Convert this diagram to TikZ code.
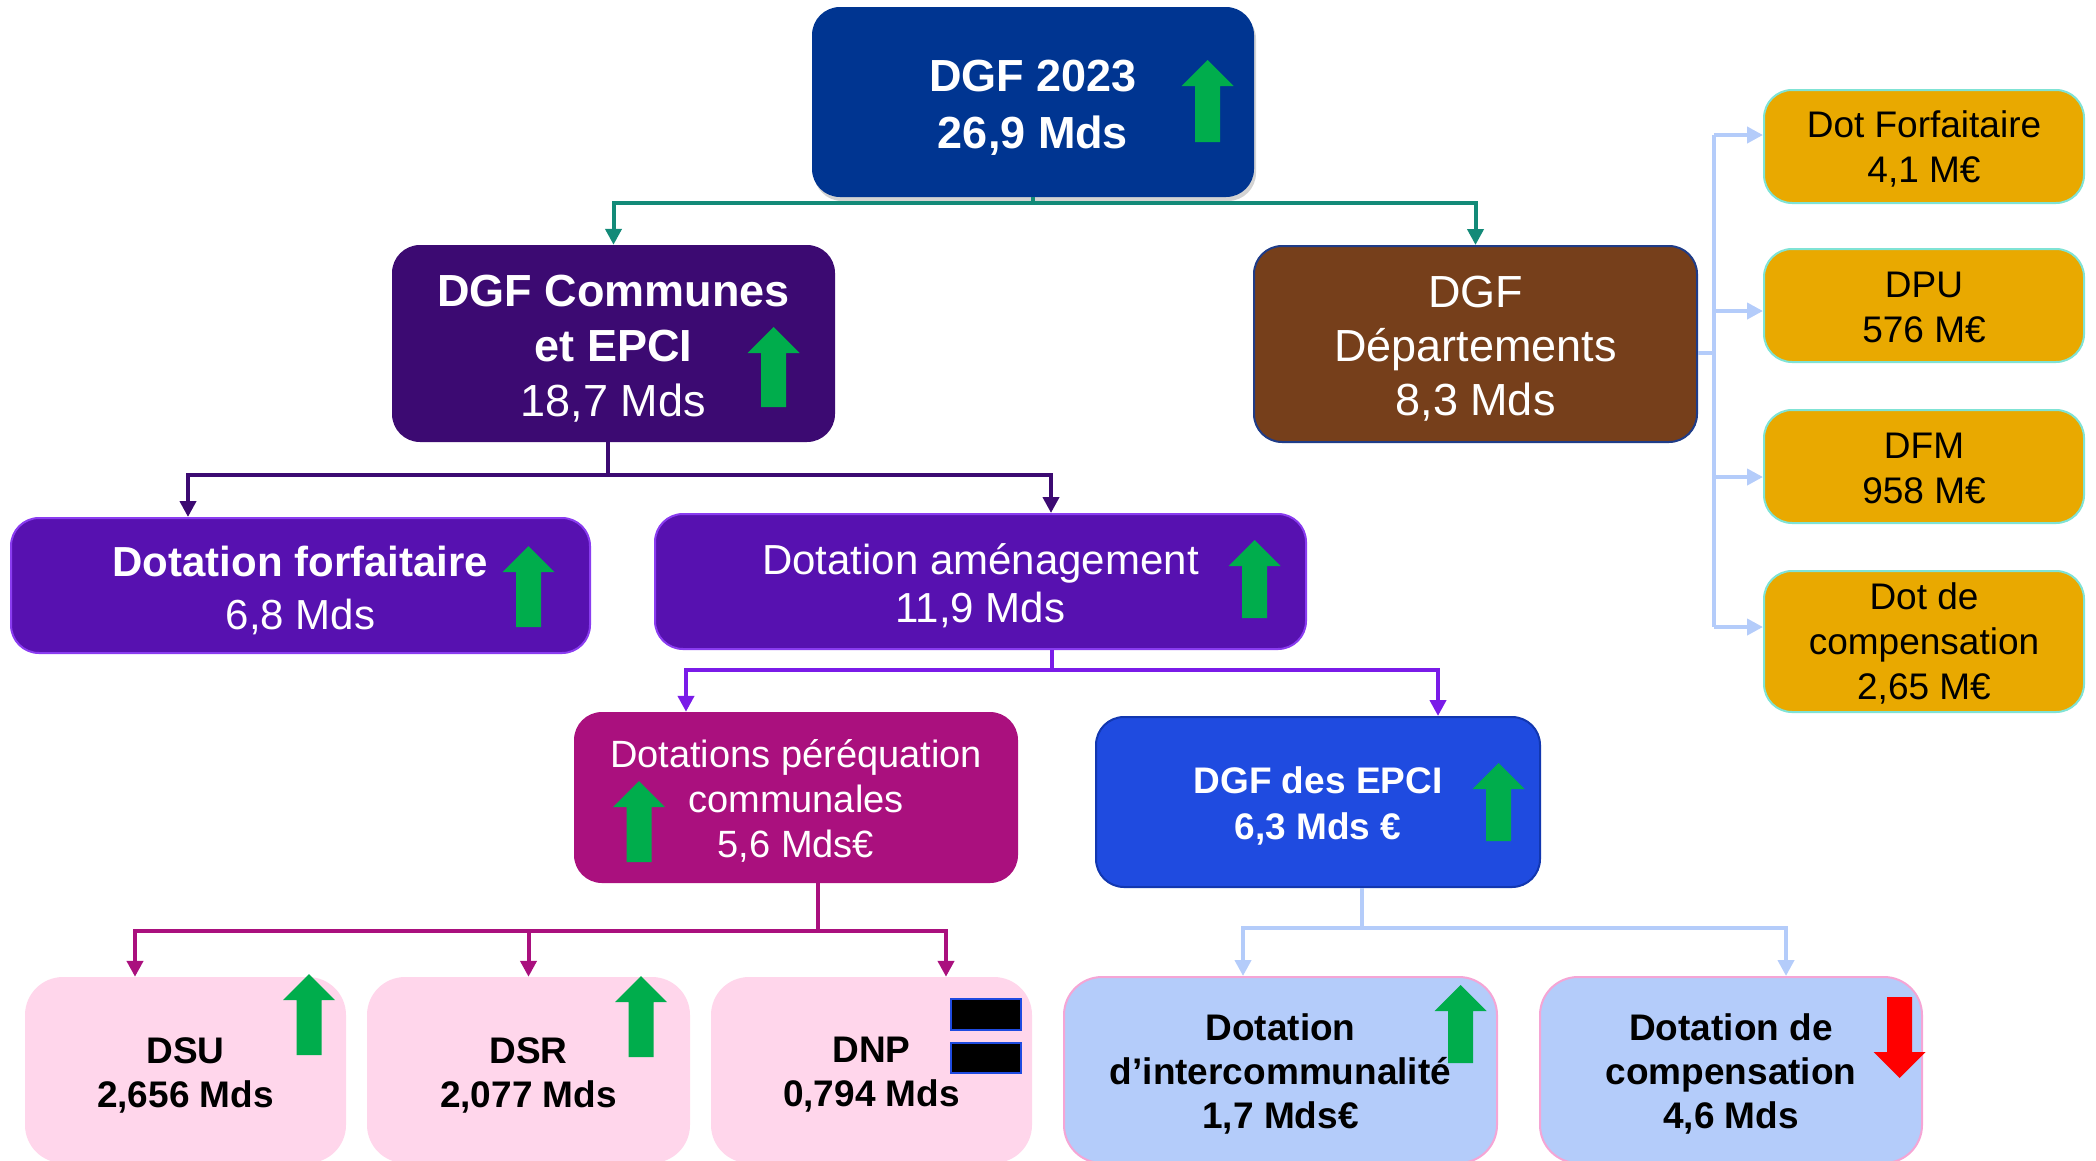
\documentclass[tikz,border=0pt]{standalone}
\usepackage{fontspec}
\setmainfont{Liberation Sans}
\usetikzlibrary{arrows.meta,shadows}
\definecolor{cnavy}{HTML}{003591}
\definecolor{ccomm}{HTML}{3C0A72}
\definecolor{cdep}{HTML}{763F1B}
\definecolor{cdepb}{HTML}{1F3C88}
\definecolor{corange}{HTML}{E9A900}
\definecolor{corangeb}{HTML}{7FE3D5}
\definecolor{cviolet}{HTML}{5711B0}
\definecolor{cvioletb}{HTML}{8A3CF0}
\definecolor{cmag}{HTML}{AA107E}
\definecolor{cepci}{HTML}{1F4BE0}
\definecolor{cepcib}{HTML}{1237B0}
\definecolor{cpink}{HTML}{FFD6EB}
\definecolor{clblue}{HTML}{B4CCFA}
\definecolor{clblueb}{HTML}{F5A5D5}
\definecolor{cteal}{HTML}{138A78}
\definecolor{cvline}{HTML}{7A1BE8}
\definecolor{cgreen}{HTML}{00AD4C}
\definecolor{cred}{HTML}{FF0000}
\newcommand{\fs}[2]{\fontsize{#1}{#2}\selectfont}
\newcommand{\garrow}[3]{\fill[cgreen] (#1-12.5,#3) -- (#1-12.5,#2+26) -- (#1-26,#2+26) -- (#1,#2) -- (#1+26,#2+26) -- (#1+12.5,#2+26) -- (#1+12.5,#3) -- cycle;}
\newcommand{\rarrow}[3]{\fill[cred] (#1-12.5,#2) -- (#1-12.5,#3-26) -- (#1-26,#3-26) -- (#1,#3) -- (#1+26,#3-26) -- (#1+12.5,#3-26) -- (#1+12.5,#2) -- cycle;}
% #1 box name, #2 text style, #3 downward shift (pt), #4 text
\newcommand{\boxtext}[4]{\node[txt,#2] (#1-t) at ([yshift=-#3pt]#1.center) {#4};}
\begin{document}
\begin{tikzpicture}[x=1pt,y=-1pt,
  box/.style={draw=none, rounded corners=28pt, inner sep=0pt},
  txt/.style={inner sep=0pt, align=center, text=white},
  orangebox/.style={box, fill=corange, draw=corangeb, line width=2pt, minimum width=320pt},
  otxt/.style={text=black, font=\fs{37}{45}},
  pinkbox/.style={box, fill=cpink, rounded corners=38pt, minimum width=321pt, minimum height=186pt},
  lbluebox/.style={box, fill=clblue, draw=clblueb, line width=2pt, rounded corners=38pt, minimum height=186pt},
  btxt/.style={text=black, font=\bfseries\fs{37}{44}},
  conn/.style={line width=4pt, -{Triangle[width=16pt,length=16pt]}},
  plain/.style={line width=4pt},
]
\useasboundingbox (0,0) rectangle (2096,1160);

% boxes
\node[box, fill=cnavy, minimum width=442pt, minimum height=190pt,
  drop shadow={shadow xshift=2pt, shadow yshift=-4pt, opacity=0.35}] (top) at (1033,102) {};
\boxtext{top}{font=\bfseries\fs{45}{57}}{6}{DGF 2023\\26,9 Mds}
\node[box, fill=ccomm, minimum width=443pt, minimum height=197pt] (comm) at (613.5,343.5) {};
\boxtext{comm}{font=\fs{45}{55}}{5}{\textbf{DGF Communes}\\\textbf{et EPCI}\\18,7 Mds}
\node[box, fill=cdep, draw=cdepb, line width=2pt, minimum width=443pt, minimum height=196pt] (dep) at (1475.5,344) {};
\boxtext{dep}{font=\fs{45}{54}}{5}{DGF\\Départements\\8,3 Mds}

\node[orangebox, minimum height=113pt] (o1) at (1924,146.5) {};
\boxtext{o1}{otxt}{2}{Dot Forfaitaire\\4,1 M€}
\node[orangebox, minimum height=113pt] (o2) at (1924,305.5) {};
\boxtext{o2}{otxt}{2}{DPU\\576 M€}
\node[orangebox, minimum height=113pt] (o3) at (1924,466.5) {};
\boxtext{o3}{otxt}{2}{DFM\\958 M€}
\node[orangebox, minimum height=141pt] (o4) at (1924,641.5) {};
\boxtext{o4}{otxt}{2}{Dot de\\compensation\\2,65 M€}

\node[box, fill=cviolet, draw=cvioletb, line width=2pt, minimum width=579pt, minimum height=135pt] (forf) at (300.5,585.5) {};
\boxtext{forf}{font=\fs{42}{53}}{5}{\textbf{Dotation forfaitaire}\\6,8 Mds}
\node[box, fill=cviolet, draw=cvioletb, line width=2pt, minimum width=651pt, minimum height=135pt] (amen) at (980.5,581.5) {};
\boxtext{amen}{font=\fs{42}{48}}{4}{Dotation aménagement\\11,9 Mds}

\node[box, fill=cmag, minimum width=444pt, minimum height=171pt] (pere) at (796,797.5) {};
\boxtext{pere}{font=\fs{38}{45}}{3}{Dotations péréquation\\communales\\5,6 Mds€}
\node[box, fill=cepci, draw=cepcib, line width=2pt, minimum width=444pt, minimum height=170pt] (epci) at (1318,802) {};
\boxtext{epci}{font=\bfseries\fs{37}{46}}{4}{DGF des EPCI\\6,3 Mds €}

\node[pinkbox] (dsu) at (185.5,1070) {};
\boxtext{dsu}{btxt}{5}{DSU\\2,656 Mds}
\node[pinkbox, minimum width=323pt] (dsr) at (528.5,1070) {};
\boxtext{dsr}{btxt}{5}{DSR\\2,077 Mds}
\node[pinkbox] (dnp) at (871.5,1070) {};
\boxtext{dnp}{btxt}{5}{DNP\\0,794 Mds}
\node[lbluebox, minimum width=433pt] (inter) at (1280.5,1070) {};
\boxtext{inter}{btxt}{4}{Dotation\\d’intercommunalité\\1,7 Mds€}
\node[lbluebox, minimum width=382pt] (comp) at (1731,1070) {};
\boxtext{comp}{btxt}{4}{Dotation de\\compensation\\4,6 Mds}

% green / red arrows
\garrow{1207.5}{60}{142}
\garrow{773.5}{327}{407}
\garrow{528.5}{546}{627}
\garrow{1254.5}{540}{618}
\garrow{639}{781}{862}
\garrow{1498.5}{763}{841}
\garrow{309}{974}{1055}
\garrow{641}{976}{1057}
\garrow{1460.5}{985}{1063}
\rarrow{1899.5}{997}{1078}
% DNP equal sign
\draw[fill=black, draw=cepci, line width=2.5pt] (951,999) rectangle (1021,1030);
\draw[fill=black, draw=cepci, line width=2.5pt] (951,1043) rectangle (1021,1073);

% connectors
\coordinate (j1) at (1033,203);
\draw[plain, cteal] (top.south) -- (j1);
\draw[conn, cteal] (j1) -| (comm.north);
\draw[conn, cteal] (j1) -| (dep.north);

\coordinate (j2) at (608,475);
\draw[plain, ccomm] (comm.south -| j2) -- (j2);
\draw[conn, ccomm] (j2) -| ([xshift=-112.5pt]forf.north);
\draw[conn, ccomm] (j2) -| ([xshift=70.5pt]amen.north);

\coordinate (j3) at (1052,670);
\draw[plain, cvline] (amen.south -| j3) -- (j3);
\draw[conn, cvline] (j3) -| ([xshift=-110pt]pere.north);
\draw[conn, cvline] (j3) -| ([xshift=120pt]epci.north);

\coordinate (j4) at (818,931);
\draw[plain, cmag] (pere.south -| j4) -- (j4);
\draw[conn, cmag] (j4) -| ([xshift=-50.5pt]dsu.north);
\draw[conn, cmag] (j4) -| (dsr.north);
\draw[conn, cmag] (j4) -| ([xshift=74.5pt]dnp.north);

\coordinate (j5) at (1362,928);
\draw[plain, clblue] (epci.south -| j5) -- (j5);
\draw[conn, clblue] (j5) -| ([xshift=-37.5pt]inter.north);
\draw[conn, clblue] (j5) -| ([xshift=55pt]comp.north);

\coordinate (j6) at (1714,353);
\coordinate (b1) at (1714,135);
\coordinate (b2) at (1714,311);
\coordinate (b3) at (1714,477);
\coordinate (b4) at (1714,627);
\draw[plain, clblue] (dep.east |- j6) -- (j6);
\draw[plain, clblue] (b1) -- (b4);
\draw[conn, clblue] (b1) -- (b1 -| o1.west);
\draw[conn, clblue] (b2) -- (b2 -| o2.west);
\draw[conn, clblue] (b3) -- (b3 -| o3.west);
\draw[conn, clblue] (b4) -- (b4 -| o4.west);
\end{tikzpicture}
\end{document}
